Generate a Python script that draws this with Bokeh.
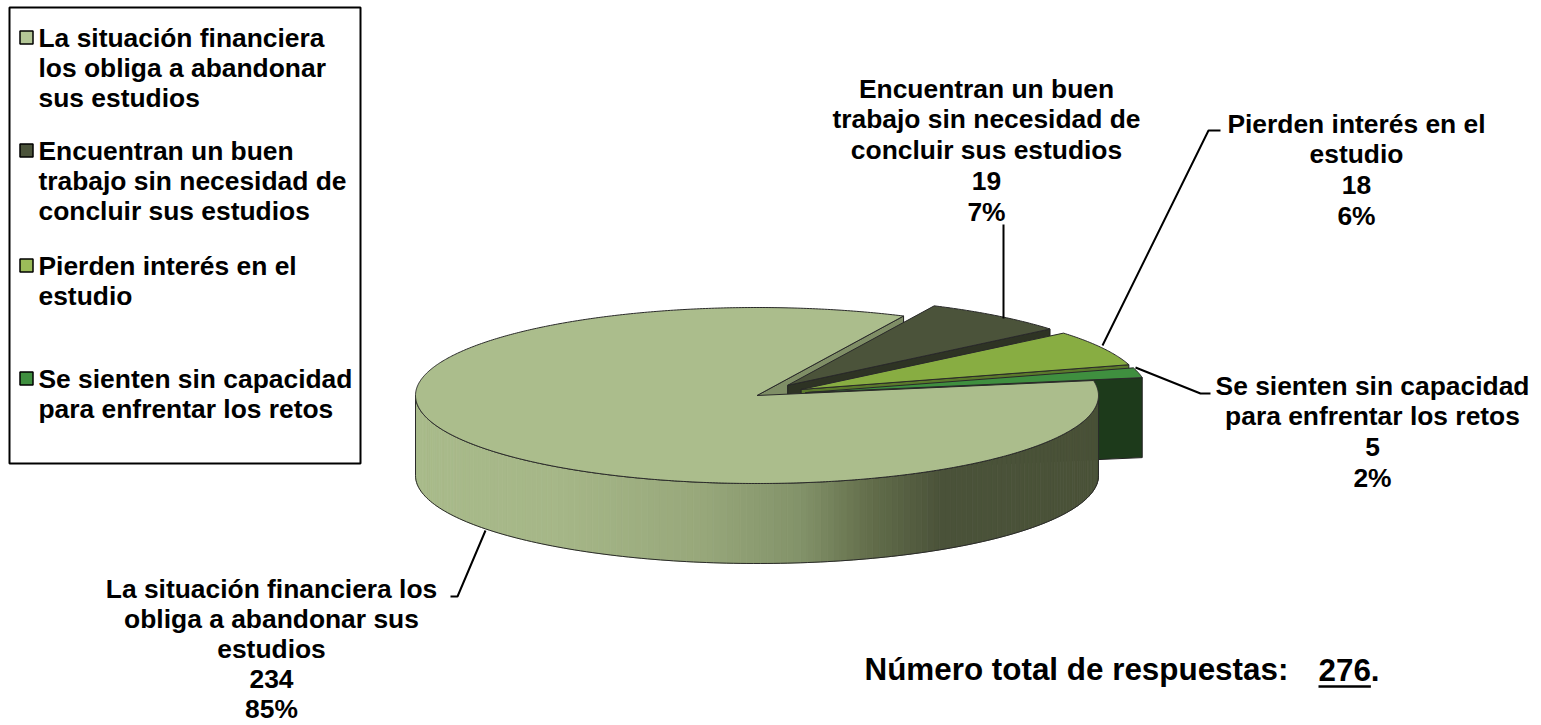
import numpy as np
from bokeh.plotting import figure
from bokeh.models import Range1d
from bokeh.core.properties import value
from bokeh.embed import file_html
from bokeh.resources import INLINE

# ---------------- data ----------------
categories = [
    "La situación financiera los obliga a abandonar sus estudios",
    "Encuentran un buen trabajo sin necesidad de concluir sus estudios",
    "Pierden interés en el estudio",
    "Se sienten sin capacidad para enfrentar los retos",
]
counts = [234, 19, 18, 5]
pct_labels = ["85%", "7%", "6%", "2%"]
legend_lines = [
    ["La situación financiera", "los obliga a abandonar", "sus estudios"],
    ["Encuentran un buen", "trabajo sin necesidad de", "concluir sus estudios"],
    ["Pierden interés en el", "estudio"],
    ["Se sienten sin capacidad", "para enfrentar los retos"],
]
label_lines = [
    ["La situación financiera los", "obliga a abandonar sus", "estudios"],
    ["Encuentran un buen", "trabajo sin necesidad de", "concluir sus estudios"],
    ["Pierden interés en el", "estudio"],
    ["Se sienten sin capacidad", "para enfrentar los retos"],
]
total_text = "Número total de respuestas:"
total_value = str(sum(counts))

# ---------------- style ----------------
top_colors = ["#ABBD8C", "#4B533A", "#88AD42", "#3F8F3F"]
face_colors = ["#7F8E66", "#2E3324", "#5B7A2B", "#1D3A1B"]
legend_colors = ["#B3C696", "#4B533A", "#9BBB59", "#3F8F3F"]
explode = [0, 50, 50, 50]
FONT = value("Liberation Sans")

CX, CY, RX, RY, DEPTH = 756.5, 395.0, 341.5, 88.0, 80.0
START = 9.8  # degrees, slices proceed clockwise

total = float(sum(counts))
spans = [c / total * 360.0 for c in counts]
bounds = []
acc = 0.0
for s in spans:
    t1 = START - acc
    t0 = t1 - s
    bounds.append((t0, t1))
    acc += s


def offset(i):
    t0, t1 = bounds[i]
    b = np.radians((t0 + t1) / 2)
    e = explode[i]
    return e * np.cos(b), -e * np.sin(b) * RY / RX


def pt(i, t, f, z):
    ox, oy = offset(i)
    tr = np.radians(t)
    return CX + ox + f * RX * np.cos(tr), CY + oy - f * RY * np.sin(tr) + z


p = figure(width=1541, height=725, x_range=Range1d(0, 1541), y_range=Range1d(725, 0),
           output_backend="svg", toolbar_location=None, min_border=0)
p.axis.visible = False
p.grid.visible = False
p.outline_line_color = None
p.background_fill_color = "white"
p.border_fill_color = "white"

# --- radial faces (painter sorted) ---
faces = []
for i, (t0, t1) in enumerate(bounds):
    for t, vis in ((t0, np.cos(np.radians(t0)) > 0), (t1, np.cos(np.radians(t1)) < 0)):
        if not vis:
            continue
        ax, ay = pt(i, t, 0, 0)
        rx_, ry_ = pt(i, t, 1, 0)
        xs = [ax, rx_, rx_, ax]
        ys = [ay, ry_, ry_ + DEPTH, ay + DEPTH]
        faces.append(((ay + ry_) / 2, xs, ys, face_colors[i]))
faces.sort(key=lambda f: f[0])
for _, xs, ys, c in faces:
    p.patch(xs, ys, fill_color=c, line_color="#222222", line_width=1)

# --- curved front sides ---
stop_x = [415, 560, 700, 800, 870, 940, 1098]
stop_rgb = np.array([[0xA9, 0xBB, 0x8B], [0xA6, 0xB7, 0x88], [0x98, 0xA8, 0x7B],
                     [0x83, 0x93, 0x6A], [0x63, 0x6E, 0x4B], [0x4B, 0x53, 0x3A],
                     [0x4A, 0x52, 0x38]])


def grad(x):
    r, g, b = (int(np.interp(x, stop_x, stop_rgb[:, k])) for k in range(3))
    return "#%02x%02x%02x" % (r, g, b)


for i, (t0, t1) in enumerate(bounds):
    for k in range(-2, 3):
        a = max(t0, -180 + 360 * k)
        b = min(t1, 360 * k)
        if b - a <= 0.01:
            continue
        ts = np.linspace(a, b, 160)
        sx, sy, sc = [], [], []
        for j in range(len(ts) - 1):
            xa, ya = pt(i, ts[j], 1, 0)
            xb, yb = pt(i, ts[j + 1], 1, 0)
            sx.append([xa, xb, xb, xa])
            sy.append([ya, yb, yb + DEPTH, ya + DEPTH])
            sc.append(grad((xa + xb) / 2) if i == 0 else face_colors[i])
        p.patches(sx, sy, fill_color=sc, line_color=sc, line_width=0.8)
        top = [pt(i, t, 1, 0) for t in ts]
        bot = [pt(i, t, 1, DEPTH) for t in ts[::-1]]
        ox = [q[0] for q in top] + [q[0] for q in bot]
        oy = [q[1] for q in top] + [q[1] for q in bot]
        p.patch(ox, oy, fill_color=None, line_color="#2a2a2a", line_width=1)

# --- tops ---
for i, (t0, t1) in enumerate(bounds):
    ts = np.linspace(t0, t1, max(8, int((t1 - t0) * 2)))
    ax, ay = pt(i, 0, 0, 0)
    arc = [pt(i, t, 1, 0) for t in ts]
    xs = [ax] + [q[0] for q in arc]
    ys = [ay] + [q[1] for q in arc]
    p.patch(xs, ys, fill_color=top_colors[i], line_color="#2a2a2a", line_width=1)

# --- data labels ---
label_anchor = [(271, 588), (986, 88), (1356, 123), (1372, 385)]
label_step = [30.2, 30.8, 30.8, 30.8]
for i in range(len(categories)):
    lines = label_lines[i] + [str(counts[i]), pct_labels[i]]
    x0, y0 = label_anchor[i]
    p.text(x=[x0] * len(lines), y=[y0 + label_step[i] * k for k in range(len(lines))], text=lines,
           text_font=FONT, text_font_style="bold", text_font_size="26.4px",
           text_align="center", text_baseline="middle", text_color="black")

leaders = [
    ([450, 457, 485], [596, 596, 530]),
    ([1003, 1003], [224, 318]),
    ([1220, 1208, 1102], [130, 130, 345]),
    ([1210, 1200, 1135], [393, 393, 367]),
]
p.multi_line([l[0] for l in leaders], [l[1] for l in leaders], line_color="black", line_width=2)

# --- legend ---
p.quad(left=[9], right=[360], top=[7], bottom=[463], fill_color=None,
       line_color="black", line_width=2)
leg_y = [37, 150, 265, 378]
p.rect(x=[26] * 4, y=leg_y, width=13, height=13, fill_color=legend_colors,
       line_color="black", line_width=1.5)
lx, ly, lt = [], [], []
for i, lines in enumerate(legend_lines):
    for k, s in enumerate(lines):
        lx.append(38)
        ly.append(leg_y[i] + 30 * k)
        lt.append(s)
p.text(x=lx, y=ly, text=lt, text_font=FONT, text_font_style="bold", text_font_size="26.4px",
       text_align="left", text_baseline="middle", text_color="black")

# --- total ---
TFS = 31.4
p.text(x=[864], y=[669], text=[total_text], text_font=FONT, text_font_style="bold",
       text_font_size=f"{TFS}px", text_align="left", text_baseline="middle", text_color="black")
p.text(x=[1318], y=[669], text=[total_value + "."], text_font=FONT, text_font_style="bold",
       text_font_size=f"{TFS}px", text_align="left", text_baseline="middle", text_color="black")
uw = 0.556 * TFS * len(total_value)
p.line([1318, 1318 + uw], [686, 686], line_color="black", line_width=2.5)

open("out.html", "w").write(file_html(p, INLINE))
